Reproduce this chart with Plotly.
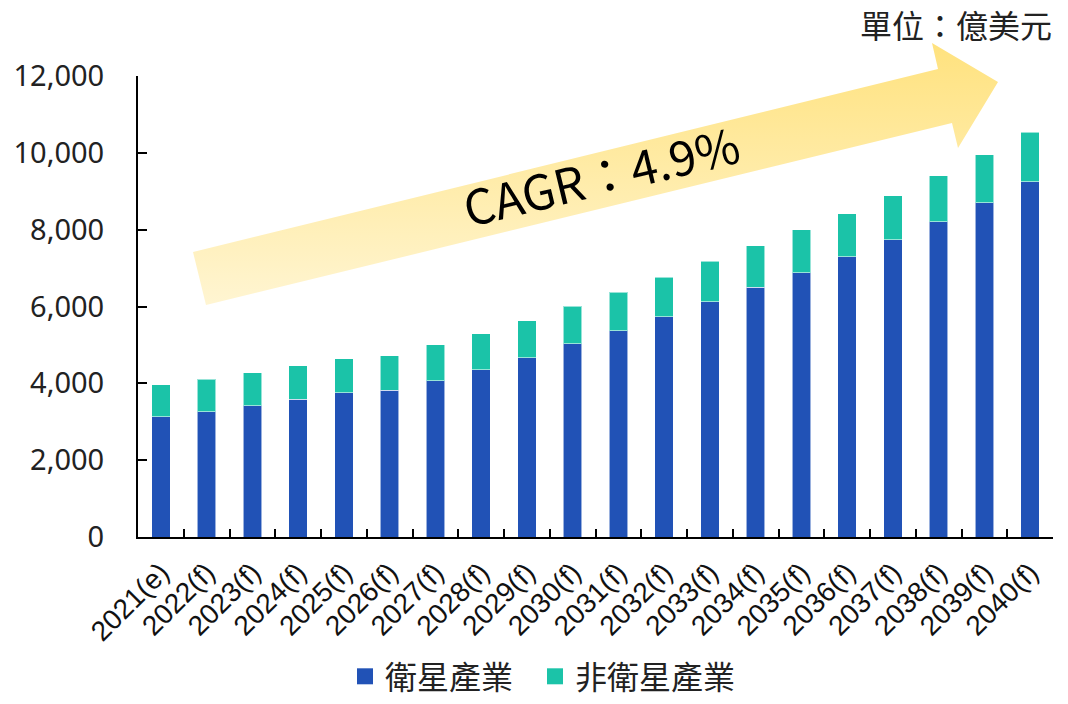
import plotly.graph_objects as go

# ---- data (億美元) ----
years = ["2021(e)", "2022(f)", "2023(f)", "2024(f)", "2025(f)", "2026(f)", "2027(f)",
         "2028(f)", "2029(f)", "2030(f)", "2031(f)", "2032(f)", "2033(f)", "2034(f)",
         "2035(f)", "2036(f)", "2037(f)", "2038(f)", "2039(f)", "2040(f)"]
satellite = [3125, 3263, 3420, 3585, 3759, 3819, 4071, 4349, 4670, 5026,
             5373, 5738, 6128, 6502, 6884, 7300, 7743, 8212, 8707, 9253]
non_satellite = [833, 844, 851, 868, 876, 895, 929, 937, 955, 981,
                 999, 1024, 1051, 1076, 1111, 1120, 1146, 1198, 1241, 1285]
series_names = ["衛星產業", "非衛星產業"]
y_ticks = [0, 2000, 4000, 6000, 8000, 10000, 12000]
cagr_text = "CAGR：4.9%"
unit_text = "單位：億美元"

# ---- styles / layout geometry (page pixels) ----
BLUE = "#2152B6"
TEAL = "#1BC3A8"
W, H = 1068, 704
PLOT_L, PLOT_R, PLOT_T, PLOT_B = 138, 1053, 76, 537
CJK = "Noto Sans CJK TC"

# arrow outline in page pixels (decoration)
arrow_x = [206, 193, 938, 932, 998, 958, 952, 206]
arrow_y = [305, 252, 69, 43, 82, 148, 123, 305]

fig = go.Figure()

fig.add_trace(go.Bar(x=years, y=satellite, name=series_names[0],
                     marker=dict(color=BLUE, line=dict(color="rgba(255,255,255,0.55)", width=1)),
                     showlegend=False, legendgroup="a"))
fig.add_trace(go.Bar(x=years, y=non_satellite, name=series_names[1],
                     marker=dict(color=TEAL, line=dict(color="rgba(255,255,255,0.55)", width=1)),
                     showlegend=False, legendgroup="b"))

# legend proxies (larger square symbols), one legend each for exact placement
fig.add_trace(go.Scatter(x=[None], y=[None], mode="markers", name=series_names[0],
                         marker=dict(symbol="square", size=16, color=BLUE),
                         legendgroup="a", legend="legend"))
fig.add_trace(go.Scatter(x=[None], y=[None], mode="markers", name=series_names[1],
                         marker=dict(symbol="square", size=16, color=TEAL),
                         legendgroup="b", legend="legend2"))

# gradient arrow on a full-page overlay axis
fig.add_trace(go.Scatter(x=arrow_x, y=arrow_y, xaxis="x2", yaxis="y2", mode="lines",
                         fill="toself", line=dict(width=0, color="rgba(0,0,0,0)"),
                         fillgradient=dict(type="vertical", start=min(arrow_y), stop=max(arrow_y),
                                           colorscale=[[0, "#FFE27E"], [1, "#FFF5D2"]]),
                         hoverinfo="skip", showlegend=False))

fig.add_annotation(x=601, y=174, xref="x2", yref="y2", text=cagr_text, showarrow=False,
                   textangle=-13.5, font=dict(family=CJK, size=48, color="#000000"))
fig.add_annotation(x=1053, y=0, xref="x2", yref="y2", text=unit_text, showarrow=False,
                   xanchor="right", yanchor="top", borderpad=0,
                   font=dict(family=CJK, size=32, color="#222222"))

legend_common = dict(orientation="h", xanchor="left", y=0, yanchor="bottom",
                     font=dict(family=CJK, size=32, color="#222222"), itemsizing="trace",
                     bgcolor="rgba(0,0,0,0)")

fig.update_layout(
    width=W, height=H,
    margin=dict(l=0, r=0, t=0, b=0, autoexpand=False),
    paper_bgcolor="white", plot_bgcolor="rgba(0,0,0,0)",
    barmode="stack", bargap=0.6,
    xaxis=dict(domain=[PLOT_L / W, PLOT_R / W], type="category",
               showline=True, linecolor="black", linewidth=2,
               ticks="inside", tickson="boundaries", ticklen=8, tickwidth=2, tickcolor="black",
               tickangle=-45, ticklabelstandoff=6,
               tickfont=dict(family="Liberation Sans", size=28, color="#111111"),
               showgrid=False, zeroline=False, automargin=False, fixedrange=True),
    yaxis=dict(domain=[(H - PLOT_B) / H, (H - PLOT_T) / H], range=[0, 12000],
               tickvals=y_ticks, tickformat=",d",
               showline=True, linecolor="black", linewidth=2,
               ticks="inside", ticklen=9, tickwidth=2, tickcolor="black",
               ticklabelstandoff=26,
               tickfont=dict(family="Noto Sans", size=29, color="#222222"),
               showgrid=False, zeroline=False, automargin=False, fixedrange=True),
    xaxis2=dict(domain=[0, 1], range=[0, W], anchor="y2", visible=False, fixedrange=True),
    yaxis2=dict(domain=[0, 1], range=[H, 0], anchor="x2", visible=False, fixedrange=True),
    legend=dict(x=(357 - 12) / W, **legend_common),
    legend2=dict(x=(547 - 12) / W, **legend_common),
    showlegend=True,
)

fig.write_html("out.html", config={"displayModeBar": False},
               post_script="document.body.style.margin='0';")
